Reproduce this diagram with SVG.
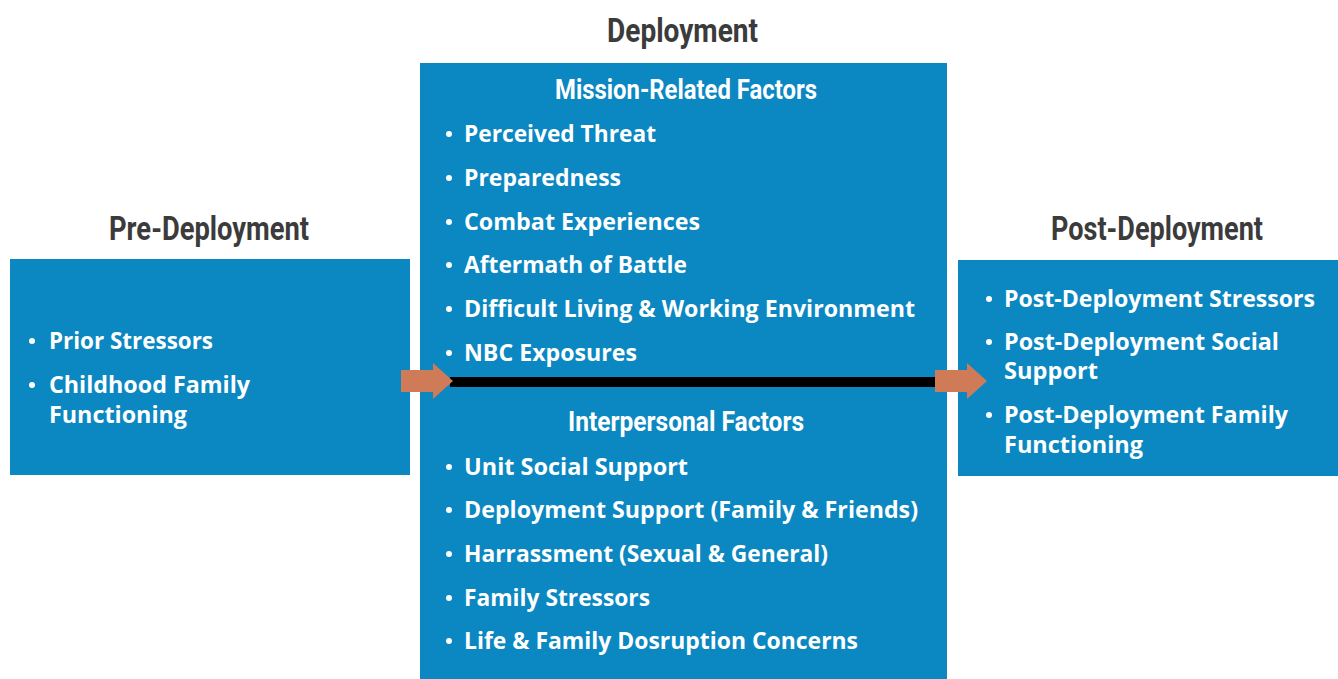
<svg xmlns="http://www.w3.org/2000/svg" width="1338" height="679" viewBox="0 0 1338 679">
<style>
.box{fill:#0b87c1}
.title{font-family:Roboto,"Liberation Sans",sans-serif;font-weight:700;font-size:34px;fill:#3b3b3b}
.head{font-family:Roboto,"Liberation Sans",sans-serif;font-weight:700;font-size:27px;fill:#ffffff}
.item{font-family:"Open Sans","Liberation Sans",sans-serif;font-weight:700;font-size:23px;fill:#ffffff}
.bul{fill:#ffffff}
.arr{fill:#d07b58}
</style>
<rect width="1338" height="679" fill="#ffffff"/>
<g id="pre">
<rect class="box" x="10" y="259" width="400" height="216"/>
<text class="title" x="109" y="240" textLength="200" lengthAdjust="spacingAndGlyphs">Pre-Deployment</text>
<circle class="bul" cx="32" cy="341" r="3"/>
<text class="item" x="49" y="349" textLength="164" lengthAdjust="spacingAndGlyphs">Prior Stressors</text>
<circle class="bul" cx="32" cy="385" r="3"/>
<text class="item" x="49" y="393" textLength="201" lengthAdjust="spacingAndGlyphs">Childhood Family</text>
<text class="item" x="49" y="423" textLength="138" lengthAdjust="spacingAndGlyphs">Functioning</text>
</g>
<g id="deployment">
<rect class="box" x="420" y="63" width="527" height="616"/>
<text class="title" x="607" y="42" textLength="151" lengthAdjust="spacingAndGlyphs">Deployment</text>
<text class="head" x="555" y="99" textLength="262" lengthAdjust="spacingAndGlyphs">Mission-Related Factors</text>
<circle class="bul" cx="449" cy="134" r="3"/>
<text class="item" x="464" y="142" textLength="192" lengthAdjust="spacingAndGlyphs">Perceived Threat</text>
<circle class="bul" cx="449" cy="178" r="3"/>
<text class="item" x="464" y="186" textLength="157" lengthAdjust="spacingAndGlyphs">Preparedness</text>
<circle class="bul" cx="449" cy="222" r="3"/>
<text class="item" x="464" y="230" textLength="236" lengthAdjust="spacingAndGlyphs">Combat Experiences</text>
<circle class="bul" cx="449" cy="265" r="3"/>
<text class="item" x="464" y="273" textLength="223" lengthAdjust="spacingAndGlyphs">Aftermath of Battle</text>
<circle class="bul" cx="449" cy="309" r="3"/>
<text class="item" x="464" y="317" textLength="451" lengthAdjust="spacingAndGlyphs">Difficult Living &amp; Working Environment</text>
<circle class="bul" cx="449" cy="353" r="3"/>
<text class="item" x="464" y="361" textLength="173" lengthAdjust="spacingAndGlyphs">NBC Exposures</text>
<text class="head" x="568" y="431" textLength="236" lengthAdjust="spacingAndGlyphs">Interpersonal Factors</text>
<circle class="bul" cx="449" cy="467" r="3"/>
<text class="item" x="464" y="475" textLength="224" lengthAdjust="spacingAndGlyphs">Unit Social Support</text>
<circle class="bul" cx="449" cy="510" r="3"/>
<text class="item" x="464" y="518" textLength="454" lengthAdjust="spacingAndGlyphs">Deployment Support (Family &amp; Friends)</text>
<circle class="bul" cx="449" cy="554" r="3"/>
<text class="item" x="464" y="562" textLength="364" lengthAdjust="spacingAndGlyphs">Harrassment (Sexual &amp; General)</text>
<circle class="bul" cx="449" cy="598" r="3"/>
<text class="item" x="464" y="606" textLength="186" lengthAdjust="spacingAndGlyphs">Family Stressors</text>
<circle class="bul" cx="449" cy="641" r="3"/>
<text class="item" x="464" y="649" textLength="394" lengthAdjust="spacingAndGlyphs">Life &amp; Family Dosruption Concerns</text>
</g>
<g id="post">
<rect class="box" x="958" y="260" width="380" height="216"/>
<text class="title" x="1051" y="240" textLength="212" lengthAdjust="spacingAndGlyphs">Post-Deployment</text>
<circle class="bul" cx="989" cy="299" r="3"/>
<text class="item" x="1004" y="307" textLength="311" lengthAdjust="spacingAndGlyphs">Post-Deployment Stressors</text>
<circle class="bul" cx="989" cy="342" r="3"/>
<text class="item" x="1004" y="350" textLength="275" lengthAdjust="spacingAndGlyphs">Post-Deployment Social</text>
<text class="item" x="1004" y="379" textLength="94" lengthAdjust="spacingAndGlyphs">Support</text>
<circle class="bul" cx="989" cy="415" r="3"/>
<text class="item" x="1004" y="423" textLength="284" lengthAdjust="spacingAndGlyphs">Post-Deployment Family</text>
<text class="item" x="1004" y="453" textLength="139" lengthAdjust="spacingAndGlyphs">Functioning</text>
</g>
<g id="connectors">
<rect x="450" y="377" width="486" height="10" fill="#000000"/>
<polygon class="arr" points="401,370 433,370 433,363 453,381 433,399 433,392 401,392"/>
<polygon class="arr" points="935,370 967,370 967,363 987,381 967,399 967,392 935,392"/>
</g>
</svg>
